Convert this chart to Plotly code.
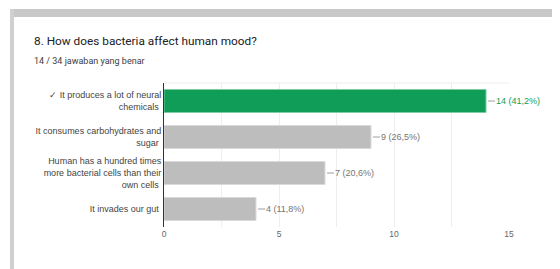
import plotly.graph_objects as go

categories = [
    "✓ It produces a lot of neural<br>chemicals",
    "It consumes carbohydrates and<br>sugar",
    "Human has a hundred times<br>more bacterial cells than their<br>own cells",
    "It invades our gut",
]
counts = [14, 9, 7, 4]
value_labels = ["14 (41,2%)", "9 (26,5%)", "7 (20,6%)", "4 (11,8%)"]
bar_colors = ["#0f9d58", "#bdbdbd", "#bdbdbd", "#bdbdbd"]
edge_colors = ["#7fcca3", "#dadada", "#dadada", "#dadada"]
label_colors = ["#0f9d58", "#757575", "#757575", "#757575"]
x_ticks = [0, 5, 10, 15]

# the page body has an 8px default margin; compensate so the picture lands at page coords
OFF = 8
W, H = 560 - OFF, 269 - OFF
L, R, T, B = 164 - OFF, 51, 83 - OFF, 42
pw = W - L - R
ph = H - T - B

def px_x(p):
    return (p - OFF - L) / pw

def px_y(p):
    return 1 - (p - OFF - T) / ph

fig = go.Figure()
fig.add_trace(go.Bar(
    x=counts, y=categories, orientation="h",
    marker=dict(color=bar_colors, line=dict(color=edge_colors, width=1)),
    width=0.64, hoverinfo="skip",
))

shapes = []
annotations = []
for c, v, lab, col in zip(categories, counts, value_labels, label_colors):
    shapes.append(dict(type="line", xref="x", yref="y", xsizemode="pixel",
                       xanchor=v, x0=2, x1=9, y0=c, y1=c,
                       line=dict(color="#9e9e9e", width=1)))
    annotations.append(dict(x=v, y=c, xref="x", yref="y", text=lab,
                            showarrow=False, xanchor="left", xshift=8,
                            font=dict(family="Liberation Sans, Arial", size=9, color=col)))

# card frame: gray strips at top and left
shapes.append(dict(type="rect", xref="paper", yref="paper", layer="below",
                   x0=px_x(10), x1=px_x(570), y0=px_y(9), y1=px_y(17),
                   fillcolor="#c8c8c8", line=dict(width=0)))
shapes.append(dict(type="rect", xref="paper", yref="paper", layer="below",
                   x0=px_x(10), x1=px_x(14), y0=px_y(9), y1=px_y(290),
                   fillcolor="#d0d0d0", line=dict(width=0)))
# plot top border
shapes.append(dict(type="line", xref="paper", yref="paper", layer="below",
                   x0=0, x1=1, y0=1, y1=1, line=dict(color="#eeeeee", width=1)))

annotations.append(dict(xref="paper", yref="paper", x=px_x(32), y=px_y(41),
                        xanchor="left", yanchor="middle", showarrow=False,
                        text="8. How does bacteria affect human mood?",
                        font=dict(family="Roboto", size=11.8, color="#202124")))
annotations.append(dict(xref="paper", yref="paper", x=px_x(32), y=px_y(61),
                        xanchor="left", yanchor="middle", showarrow=False,
                        text="14 / 34 jawaban yang benar",
                        font=dict(family="Roboto", size=9, color="#3c4043")))

fig.update_layout(
    width=W, height=H,
    margin=dict(l=L, r=R, t=T, b=B, pad=0, autoexpand=False),
    paper_bgcolor="white", plot_bgcolor="white",
    showlegend=False,
    shapes=shapes, annotations=annotations,
    xaxis=dict(range=[0, 15], tickvals=x_ticks, showgrid=True, gridcolor="#eeeeee",
               minor=dict(dtick=2.5, showgrid=True, gridcolor="#eeeeee"),
               zeroline=False, showline=False, ticks="", automargin=False,
               tickfont=dict(family="Liberation Sans, Arial", size=8.5, color="#666666"),
               fixedrange=True),
    yaxis=dict(categoryorder="array", categoryarray=categories, autorange="reversed",
               showline=True, linecolor="#333333", linewidth=1, ticks="",
               showgrid=False, ticksuffix=" ", automargin=False,
               tickfont=dict(family="Liberation Sans, Arial", size=9, color="#444444"),
               fixedrange=True),
)

fig.write_html("out.html")
